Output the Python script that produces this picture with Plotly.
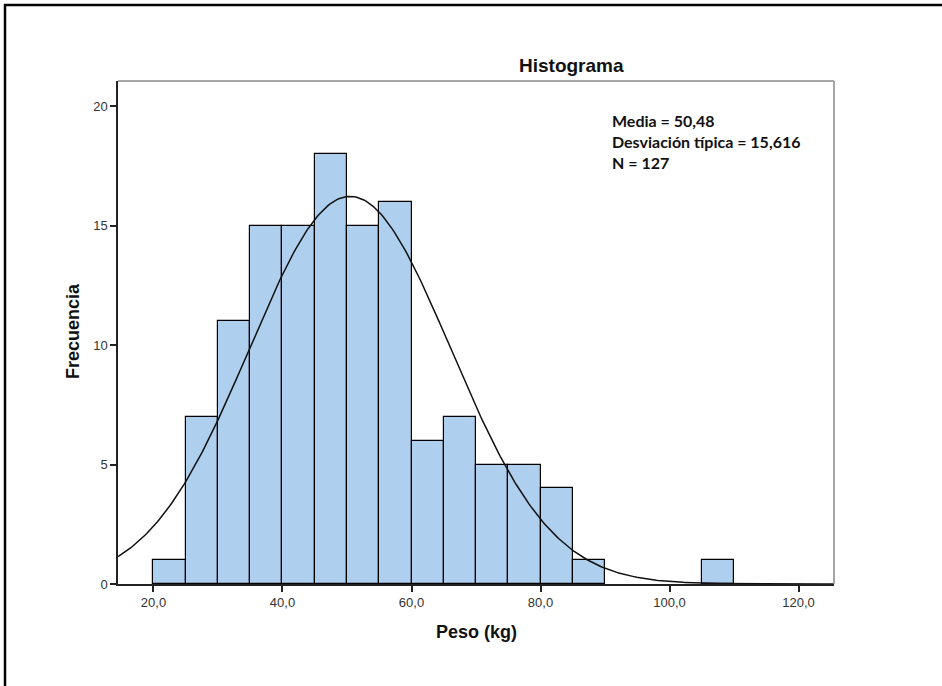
import numpy as np
import plotly.graph_objects as go

# Histogram of weights (bin width 5 kg)
bin_left = [20, 25, 30, 35, 40, 45, 50, 55, 60, 65, 70, 75, 80, 85, 105]
counts = [1, 7, 11, 15, 15, 18, 15, 16, 6, 7, 5, 5, 4, 1, 1]
bin_width = 5

mean_w = 50.48
sd_w = 15.616
n_obs = 127

x_ticks = [20, 40, 60, 80, 100, 120]
x_tick_text = ["20,0", "40,0", "60,0", "80,0", "100,0", "120,0"]
y_ticks = [0, 5, 10, 15, 20]

x_range = [14.5, 125.5]
y_range = [0, 21.05]

stat_lines = ["Media = 50,48", "Desviación típica = 15,616", f"N = {n_obs}"]

centers = [b + bin_width / 2 for b in bin_left]

# Fitted normal curve scaled to counts
xs = np.linspace(x_range[0], x_range[1], 400)
ys = n_obs * bin_width / (sd_w * np.sqrt(2 * np.pi)) * np.exp(-0.5 * ((xs - mean_w) / sd_w) ** 2)

fig = go.Figure()
fig.add_trace(go.Bar(
    x=centers, y=counts, width=bin_width,
    marker=dict(color="#aecfee", line=dict(color="#000000", width=1.2)),
    hoverinfo="x+y", showlegend=False,
))
fig.add_trace(go.Scatter(
    x=xs, y=ys, mode="lines",
    line=dict(color="#111111", width=1.5), showlegend=False, hoverinfo="skip",
))

W, H = 942, 686
ml, mr, mt, mb = 118, 108, 81, 102
pw = W - ml - mr
ph = H - mt - mb


def px_x(p):
    return (p - ml) / pw


def px_y(p):
    return 1 - (p - mt) / ph


title_font = dict(family="Liberation Sans, Arial, sans-serif", color="#111111")

annotations = [
    dict(text="<b>Histograma</b>", xref="paper", yref="paper",
         x=px_x(571), y=px_y(65), xanchor="center", yanchor="middle",
         showarrow=False, font=dict(size=19, **title_font)),
    dict(text="<b>Peso (kg)</b>", xref="paper", yref="paper",
         x=px_x(476), y=px_y(632), xanchor="center", yanchor="middle",
         showarrow=False, font=dict(size=18, **title_font)),
    dict(text="<b>Frecuencia</b>", xref="paper", yref="paper",
         x=px_x(73), y=px_y(331), xanchor="center", yanchor="middle",
         textangle=-90, showarrow=False, font=dict(size=18, **title_font)),
    dict(text="<br>".join(f"<b>{s}</b>" for s in stat_lines),
         xref="paper", yref="paper", x=px_x(610), y=px_y(109),
         xanchor="left", yanchor="top", align="left", showarrow=False,
         font=dict(size=16, color="#111111", family="Lato, Open Sans, sans-serif")),
]

fig.update_layout(
    width=W, height=H,
    margin=dict(l=ml, r=mr, t=mt, b=mb),
    paper_bgcolor="white", plot_bgcolor="white",
    bargap=0,
    font=dict(family="Liberation Sans, Arial, sans-serif", color="#222222"),
    xaxis=dict(
        range=x_range, tickvals=x_ticks, ticktext=x_tick_text,
        showgrid=False, zeroline=False,
        showline=True, linecolor="#222222", linewidth=1.5,
        ticks="outside", ticklen=6, tickcolor="#222222", tickwidth=1.5,
        tickfont=dict(size=13, color="#333333", family="Liberation Sans, Arial, sans-serif"),
    ),
    yaxis=dict(
        range=y_range, tickvals=y_ticks,
        showgrid=False, zeroline=False,
        showline=True, linecolor="#222222", linewidth=1.5,
        ticks="outside", ticklen=6, tickcolor="#222222", tickwidth=1.5,
        tickfont=dict(size=13, color="#333333", family="Liberation Sans, Arial, sans-serif"),
    ),
    shapes=[
        # plot frame (top and right sides in grey)
        dict(type="line", xref="paper", yref="paper", x0=0, x1=1, y0=1, y1=1,
             line=dict(color="#888888", width=1.5), layer="above"),
        dict(type="line", xref="paper", yref="paper", x0=1, x1=1, y0=0, y1=1,
             line=dict(color="#888888", width=1.5), layer="above"),
        # outer page border (top and left)
        dict(type="line", xref="paper", yref="paper", x0=px_x(4), x1=px_x(W + 2),
             y0=px_y(5), y1=px_y(5), line=dict(color="#000000", width=2.5)),
        dict(type="line", xref="paper", yref="paper", x0=px_x(5), x1=px_x(5),
             y0=px_y(4), y1=px_y(H + 2), line=dict(color="#000000", width=2.5)),
    ],
    annotations=annotations,
)

fig.write_html("out.html")
